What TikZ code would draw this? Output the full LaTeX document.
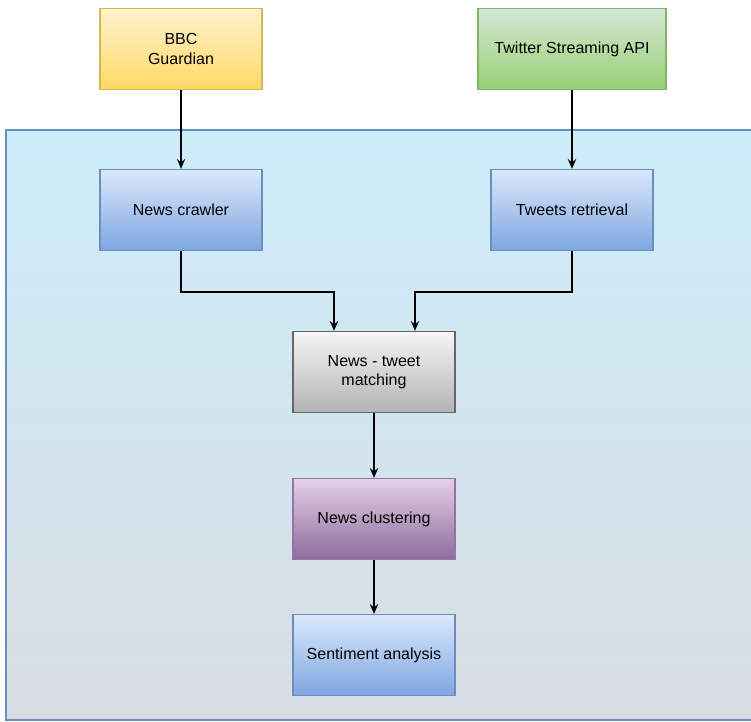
\documentclass[tikz,border=0pt]{standalone}
\usepackage{fontspec}
\setmainfont{Liberation Sans}
\usetikzlibrary{arrows.meta}
\definecolor{ylwtop}{HTML}{FFF2CC}
\definecolor{ylwbot}{HTML}{FFD966}
\definecolor{ylwline}{HTML}{D6B656}
\definecolor{grntop}{HTML}{D5E8D4}
\definecolor{grnbot}{HTML}{97D077}
\definecolor{grnline}{HTML}{82B366}
\definecolor{blutop}{HTML}{DAE8FC}
\definecolor{blubot}{HTML}{7EA6E0}
\definecolor{bluline}{HTML}{6C8EBF}
\definecolor{grytop}{HTML}{F5F5F5}
\definecolor{grybot}{HTML}{B3B3B3}
\definecolor{gryline}{HTML}{666666}
\definecolor{prptop}{HTML}{E6D0E8}
\definecolor{prpbot}{HTML}{8C6C9C}
\definecolor{prpline}{HTML}{9673A6}
\definecolor{bgtop}{HTML}{CCEDFA}
\definecolor{bgbot}{HTML}{D9DDE3}

\begin{document}
\begin{tikzpicture}[x=0.025cm, y=-0.025cm]
    \tikzset{%
      box/.style={rectangle, draw, line width=1pt, minimum width=4.05cm,
        minimum height=2.025cm, align=center, inner sep=2pt,
        font=\fontsize{11.4}{14}\selectfont},
      src/.style={box, top color=ylwtop, bottom color=ylwbot, draw=ylwline},
      api/.style={box, minimum width=4.7cm, top color=grntop, bottom color=grnbot, draw=grnline},
      proc/.style={box, top color=blutop, bottom color=blubot, draw=bluline},
      match/.style={box, top color=grytop, bottom color=grybot, draw=gryline},
      clust/.style={box, top color=prptop, bottom color=prpbot, draw=prpline},
      flow/.style={-{Stealth[length=7pt, width=6pt, inset=2.5pt]}, line width=1.3pt},
    }
    \useasboundingbox (0,0) rectangle (751,722);
    \clip (0,0) rectangle (751,722);
    % container
    \path[top color=bgtop, bottom color=bgbot, draw=bluline, line width=1pt]
      (6,130) rectangle (780,720);

    \node[src] (S1) at (181,49) {BBC\\Guardian};
    \node[api] (S2) at (572,49) {Twitter Streaming API};

    \node[proc] (C) at (181,210) {News crawler};
    \node[proc] (T) at (572,210) {Tweets retrieval};
    \draw [flow] (S1) -- (C);
    \draw [flow] (S2) -- (T);

    \node[match] (M) at (374,372) {News - tweet\\matching};
    \draw [flow] (C.south) |- (334,292) -- (M.north -| 334,0);
    \draw [flow] (T.south) |- (415,292) -- (M.north -| 415,0);

    \node[clust] (N) at (374,519) {News clustering};
    \draw [flow] (M) -- (N);

    \node[proc] (A) at (374,655) {Sentiment analysis};
    \draw [flow] (N) -- (A);
\end{tikzpicture}
\end{document}
